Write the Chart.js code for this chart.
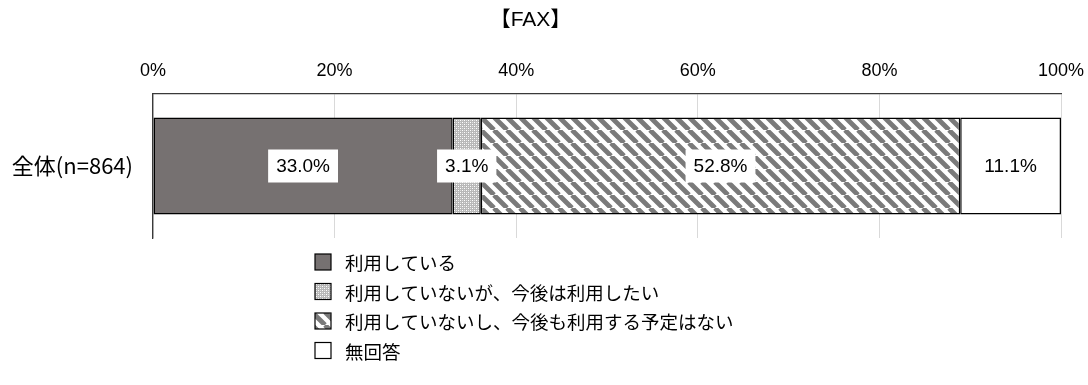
<!DOCTYPE html>
<html>
<head>
<meta charset="utf-8">
<script src="https://cdn.jsdelivr.net/npm/chart.js@4/dist/chart.umd.min.js"></script>
<style>
  html, body { margin: 0; padding: 0; background: #fff; }
  #wrap { width: 1088px; height: 385px; position: relative; }
</style>
</head>
<body>
<div id="wrap"><canvas id="faxChart" width="1088" height="385"></canvas></div>
<script>
// data
const categories = ['全体(n=864)'];
const seriesLabels = [
    '利用している',
    '利用していないが、今後は利用したい',
    '利用していないし、今後も利用する予定はない',
    '無回答'
];
const seriesValues = [[33.0], [3.1], [52.8], [11.1]];
const tickLabels = ['0%', '20%', '40%', '60%', '80%', '100%'];
const chartTitle = '【FAX】';

const jpFont = "'Noto Sans CJK JP', 'Liberation Sans', sans-serif";
const numFont = "'Liberation Sans', 'Noto Sans CJK JP', sans-serif";

// fill patterns
function makeDots() {
    const c = document.createElement('canvas');
    c.width = 4; c.height = 4;
    const g = c.getContext('2d');
    g.fillStyle = '#b8b8b8';
    g.fillRect(0, 0, 4, 4);
    g.fillStyle = '#ffffff';
    g.fillRect(0, 0, 1, 1);
    g.fillRect(2, 2, 1, 1);
    g.fillStyle = '#e0e0e0';
    g.fillRect(2, 0, 1, 1);
    g.fillRect(0, 2, 1, 1);
    return g.createPattern(c, 'repeat');
}

function makeStripes() {
    const s = 13;
    const c = document.createElement('canvas');
    c.width = s; c.height = s;
    const g = c.getContext('2d');
    g.fillStyle = '#ffffff';
    g.fillRect(0, 0, s, s);
    g.strokeStyle = '#7a7a7a';
    g.lineWidth = 4.8;
    g.beginPath();
    for (let k = -1; k <= 1; k++) {
        g.moveTo(k * s, 0);
        g.lineTo(k * s + s, s);
    }
    g.stroke();
    return g.createPattern(c, 'repeat');
}

const fills = ['#767171', makeDots(), makeStripes(), '#ffffff'];

// value boxes with white background
const valueLabels = {
    id: 'valueLabels',
    afterDatasetsDraw(chart) {
        const ctx = chart.ctx;
        ctx.save();
        ctx.font = '19px ' + numFont;
        ctx.textAlign = 'center';
        ctx.textBaseline = 'middle';
        chart.data.datasets.forEach((ds, i) => {
            const meta = chart.getDatasetMeta(i);
            meta.data.forEach((bar, j) => {
                const p = bar.getCenterPoint();
                const txt = ds.data[j].toFixed(1) + '%';
                const w = ctx.measureText(txt).width + 16;
                const h = 33;
                ctx.fillStyle = '#ffffff';
                ctx.fillRect(p.x - w / 2, p.y - h / 2, w, h);
                ctx.fillStyle = '#000000';
                ctx.fillText(txt, p.x, p.y + 1);
            });
        });
        ctx.restore();
    }
};

// vertical legend under the plot
const listLegend = {
    id: 'listLegend',
    afterDraw(chart) {
        const ctx = chart.ctx;
        const x0 = 315;
        const top = chart.chartArea.bottom + 24;
        const step = 29.5;
        ctx.save();
        ctx.font = '18.5px ' + jpFont;
        ctx.textBaseline = 'middle';
        chart.data.datasets.forEach((ds, i) => {
            const y = top + i * step;
            ctx.fillStyle = ds.backgroundColor;
            ctx.fillRect(x0, y - 8, 16, 16);
            ctx.strokeStyle = '#000000';
            ctx.lineWidth = 1.2;
            ctx.strokeRect(x0, y - 8, 16, 16);
            ctx.fillStyle = '#000000';
            ctx.fillText(ds.label, x0 + 30, y + 1);
        });
        ctx.restore();
    }
};

new Chart(document.getElementById('faxChart'), {
    type: 'bar',
    data: {
        labels: categories,
        datasets: seriesLabels.map((name, i) => ({
            label: name,
            data: seriesValues[i],
            backgroundColor: fills[i],
            borderColor: '#000000',
            borderWidth: 1.5,
            borderSkipped: false,
            categoryPercentage: 1,
            barPercentage: 0.674
        }))
    },
    options: {
        indexAxis: 'y',
        responsive: false,
        animation: false,
        layout: { padding: { top: 0, bottom: 147, left: 0, right: 27 } },
        plugins: {
            legend: { display: false },
            tooltip: { enabled: false },
            title: {
                display: true,
                text: chartTitle,
                color: '#000000',
                font: { family: numFont, size: 21, weight: 400 },
                padding: { top: 8, bottom: 0 }
            }
        },
        scales: {
            x: {
                position: 'top',
                stacked: true,
                min: 0,
                max: 100,
                afterFit: (scale) => {
                    scale.height = 60.8;
                    scale.paddingLeft = 0;
                    scale.paddingRight = 0;
                },
                afterBuildTicks: (scale) => {
                    scale.ticks = tickLabels.map((t, i) => ({ value: i * 20 }));
                },
                grid: { color: '#d9d9d9', lineWidth: 1, drawTicks: false },
                border: { display: true, color: '#3a3a3a', width: 1.3 },
                ticks: {
                    padding: 12,
                    color: '#000000',
                    font: { family: numFont, size: 18 },
                    maxRotation: 0,
                    callback: (v, i) => tickLabels[i]
                }
            },
            y: {
                stacked: true,
                afterFit: (scale) => { scale.width = 153; },
                grid: { display: false },
                border: { display: true, color: '#3a3a3a', width: 1.3 },
                ticks: {
                    padding: 12,
                    color: '#000000',
                    font: { family: jpFont, size: 22 }
                }
            }
        }
    },
    plugins: [valueLabels, listLegend]
});
</script>
</body>
</html>
